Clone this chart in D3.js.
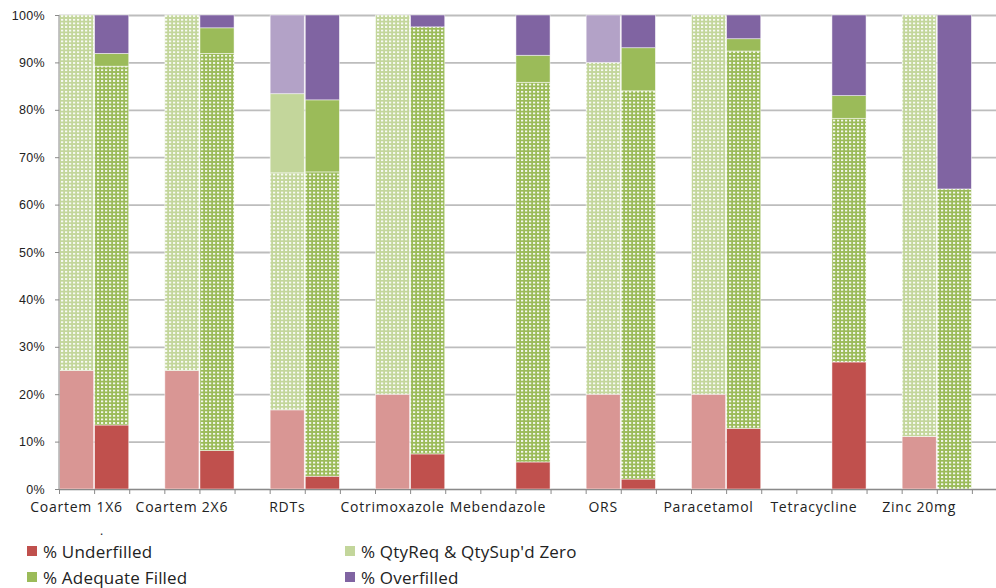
<!DOCTYPE html>
<html>
<head>
<meta charset="utf-8">
<script src="https://cdn.jsdelivr.net/npm/d3@7"></script>
<style>
  html, body { margin: 0; padding: 0; background: #fff; }
  svg { display: block; font-family: "Open Sans", "DejaVu Sans", sans-serif; }
</style>
</head>
<body>
<svg id="chart" width="996" height="588"></svg>
<script>
// Drugs along the x axis; each gets a light bar, a full-colour bar and a spacer slot
const categories = ["Coartem 1X6", "Coartem 2X6", "RDTs", "Cotrimoxazole", "Mebendazole",
                    "ORS", "Paracetamol", "Tetracycline", "Zinc 20mg"];

const seriesNames = ["% Underfilled", "% QtyReq & QtySup'd Zero", "% Adequate Filled", "% Overfilled"];

// Light (first) bar of each drug, percent
const underfilledA = [25, 25, 16.7, 20, 0, 20, 20, 0, 11.1];
const qtyZeroA     = [75, 75, 50.0, 80, 0, 70, 80, 0, 88.9];
const adequateA    = [0, 0, 16.7, 0, 0, 0, 0, 0, 0];
const overfilledA  = [0, 0, 16.6, 0, 0, 10, 0, 0, 0];

// Full-colour (second) bar of each drug, percent
const underfilledB = [13.5, 8.1, 2.7, 7.4, 5.7, 2.1, 12.8, 26.8, 0];
const qtyZeroB     = [75.7, 83.8, 64.2, 90.1, 80.1, 81.9, 79.6, 51.4, 63.3];
const adequateB    = [2.7, 5.4, 15.2, 0, 5.7, 9.1, 2.6, 4.8, 0];
const overfilledB  = [8.1, 2.7, 17.9, 2.5, 8.5, 6.9, 5.0, 17.0, 36.7];

const yTicks = [0, 10, 20, 30, 40, 50, 60, 70, 80, 90, 100];

const svg = d3.select("#chart");
const plot = { left: 59, top: 15, bottom: 489 };
const slotsPerGroup = 3;
const slotCount = categories.length * slotsPerGroup;
const plotRight = 1007;

const slotScale = d3.scaleBand().domain(d3.range(slotCount)).range([plot.left, plotRight]).padding(0);
const edgeScale = d3.scaleLinear().domain([0, slotCount]).range([plot.left, plotRight]);
const y = d3.scaleLinear().domain([0, 100]).range([plot.bottom, plot.top]);

// Fill styles: dotted pattern for the "QtyReq & QtySup'd Zero" share
const defs = svg.append("defs");
function dotted(id, bg) {
  const p = defs.append("pattern").attr("id", id)
    .attr("patternUnits", "userSpaceOnUse").attr("width", 4).attr("height", 3.6);
  p.append("rect").attr("width", 4).attr("height", 3.6).attr("fill", bg);
  p.append("rect").attr("x", 1).attr("y", 1).attr("width", 2.2).attr("height", 1.6).attr("fill", "#ffffff");
}
dotted("dotLight", "#c3d69b");
dotted("dotFull", "#9bbb59");

const fillsA = ["#d99694", "url(#dotLight)", "#c3d69b", "#b3a2c7"];
const fillsB = ["#c0504d", "url(#dotFull)", "#9bbb59", "#8064a2"];
const legendColors = ["#c0504d", "#c3d69b", "#9bbb59", "#8064a2"];

// Gridlines
svg.append("g")
  .attr("transform", `translate(${plot.left},0)`)
  .call(d3.axisLeft(y).tickValues(yTicks).tickSize(-(plotRight - plot.left)).tickFormat(""))
  .call(g => g.select(".domain").remove())
  .call(g => g.selectAll("line").attr("stroke", "#bdbdbd").attr("stroke-width", 1.8));

// Stacked bars
const keys = ["u", "z", "a", "o"];
function rows(u, z, a, o) {
  return categories.map((c, i) => ({ cat: i, u: u[i], z: z[i], a: a[i], o: o[i] }));
}
const stack = d3.stack().keys(keys);
const layersA = stack(rows(underfilledA, qtyZeroA, adequateA, overfilledA));
const layersB = stack(rows(underfilledB, qtyZeroB, adequateB, overfilledB));

function drawBars(layers, fills, offset, cls) {
  svg.append("g").attr("class", cls)
    .selectAll("g").data(layers).join("g")
    .attr("fill", (d, i) => fills[i])
    .selectAll("rect").data(d => d.filter(s => s[1] - s[0] > 0)).join("rect")
    .attr("x", d => slotScale(d.data.cat * slotsPerGroup + offset) + 0.5)
    .attr("width", slotScale.bandwidth() - 1)
    .attr("y", d => y(d[1]))
    .attr("height", d => y(d[0]) - y(d[1]))
    .attr("stroke", "#ffffff").attr("stroke-opacity", 0.6).attr("stroke-width", 0.8);
}
drawBars(layersA, fillsA, 0, "bars-light");
drawBars(layersB, fillsB, 1, "bars-full");

// Y axis
const yAxis = svg.append("g")
  .attr("transform", `translate(${plot.left},0)`)
  .call(d3.axisLeft(y).tickValues(yTicks).tickSize(4).tickPadding(10).tickFormat(d => d + "%"));
yAxis.select(".domain").attr("stroke", "#8a8a8a").attr("d", `M0,${plot.top}V${plot.bottom}`);
yAxis.selectAll("line").attr("stroke", "#8a8a8a");
yAxis.selectAll("text").attr("font-size", 12.5).attr("letter-spacing", 0.3).attr("fill", "#222");

// X axis with ticks at slot edges
const xAxis = svg.append("g")
  .attr("transform", `translate(0,${plot.bottom})`)
  .call(d3.axisBottom(edgeScale).tickValues(d3.range(slotCount + 1)).tickSize(5).tickFormat(""));
xAxis.select(".domain").attr("stroke", "#8a8a8a");
xAxis.selectAll("line").attr("stroke", "#8a8a8a");

// Drug labels under the first bar of each group
svg.append("g").selectAll("text").data(categories).join("text")
  .attr("x", (d, i) => slotScale(i * slotsPerGroup) + slotScale.bandwidth() / 2)
  .attr("y", 512)
  .attr("text-anchor", "middle")
  .attr("font-size", 14)
  .attr("letter-spacing", 0.75)
  .attr("fill", "#222")
  .text(d => d);

svg.append("text").attr("x", 100).attr("y", 535).attr("font-size", 12).attr("fill", "#222").text(".");

// Legend, two columns
const legendPos = [[27, 551], [345, 551], [27, 577], [345, 577]];
const lg = svg.append("g").selectAll("g").data(seriesNames).join("g")
  .attr("transform", (d, i) => `translate(${legendPos[i][0]},${legendPos[i][1]})`);
lg.append("rect").attr("x", 0).attr("y", -5).attr("width", 10).attr("height", 10)
  .attr("fill", (d, i) => legendColors[i]);
lg.append("text").attr("x", 16).attr("y", 6.5).attr("font-size", 17).attr("letter-spacing", 0.2)
  .attr("fill", "#222").text(d => d);
</script>
</body>
</html>
